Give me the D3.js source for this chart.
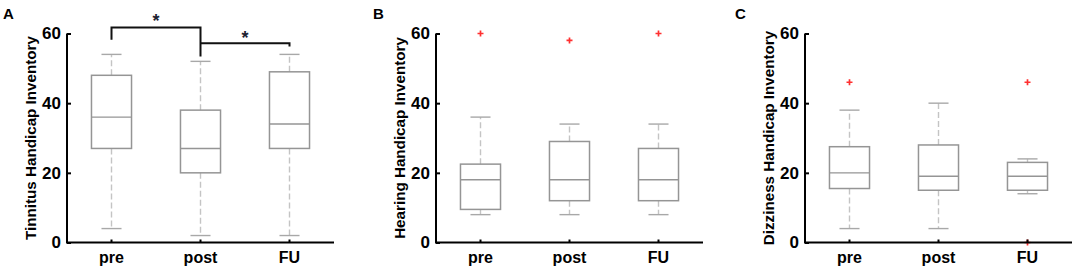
<!DOCTYPE html>
<html><head><meta charset="utf-8">
<script src="https://cdn.jsdelivr.net/npm/d3@7"></script>
<style>body{margin:0;background:#fff}svg{display:block}</style>
</head><body>
<svg id="c" width="1084" height="280"></svg>
<script>
const categories = ["pre","post","FU"];
const yTicks = [0,20,40,60];
const panelLetters = ["A","B","C"];
const yLabels = ["Tinnitus Handicap Inventory","Hearing Handicap Inventory","Dizziness Handicap Inventory"];
// [lowerWhisker, Q1, median, Q3, upperWhisker]
const tinnitusStats = [[4,27,36,48,54],[2,20,27,38,52],[2,27,34,49,54]];
const hearingStats  = [[8,9.5,18,22.5,36],[8,12,18,29,34],[8,12,18,27,34]];
const dizzinessStats= [[4,15.5,20,27.5,38],[4,15,19,28,40],[14,15,19,23,24]];
const tinnitusOutliers = [[],[],[]];
const hearingOutliers  = [[60],[58],[60]];
const dizzinessOutliers= [[46],[],[46,0]];
// significance brackets (panel A): pair, bar level, leg ends, star level
const sigPairs = [["pre","post"],["post","FU"]];
const sigLevels = [61.7,57.2];
const sigLegEnds = [[58.2,53.4],[57.2,56.3]];
const sigStarLevels = [64.1,59.3];

const panels = [
  {stats:tinnitusStats, out:tinnitusOutliers, left:67, letterX:3, sig:true},
  {stats:hearingStats, out:hearingOutliers, left:436, letterX:373, sig:false},
  {stats:dizzinessStats, out:dizzinessOutliers, left:805, letterX:735, sig:false}
];
const W = 267, plotTop = 33.5, plotBottom = 242.5;
const svg = d3.select("#c");
const font = "'Liberation Sans', Arial, sans-serif";

panels.forEach((p,i)=>{
  const g = svg.append("g").attr("transform",`translate(${p.left},0)`);
  const x = d3.scaleBand().domain(categories).range([0,W]).padding(0);
  const y = d3.scaleLinear().domain([0,60]).range([plotBottom,plotTop]);
  const bw = x.bandwidth()*0.45;
  const cap = bw/2;

  categories.forEach((c,j)=>{
    const s = p.stats[j];
    const cx = x(c)+x.bandwidth()/2;
    const bg = g.append("g");
    bg.append("line").attr("x1",cx).attr("x2",cx).attr("y1",y(s[3])).attr("y2",y(s[4]))
      .attr("stroke","#c4c4c4").attr("stroke-width",1.4).attr("stroke-dasharray","6,3");
    bg.append("line").attr("x1",cx).attr("x2",cx).attr("y1",y(s[1])).attr("y2",y(s[0]))
      .attr("stroke","#c4c4c4").attr("stroke-width",1.4).attr("stroke-dasharray","6,3");
    [s[0],s[4]].forEach(v=>{
      bg.append("line").attr("x1",cx-cap/2).attr("x2",cx+cap/2).attr("y1",y(v)).attr("y2",y(v))
        .attr("stroke","#a8a8a8").attr("stroke-width",1.4);
    });
    bg.append("rect").attr("x",cx-bw/2).attr("y",y(s[3])).attr("width",bw).attr("height",y(s[1])-y(s[3]))
      .attr("fill","none").attr("stroke","#959595").attr("stroke-width",1.5);
    bg.append("line").attr("x1",cx-bw/2).attr("x2",cx+bw/2).attr("y1",y(s[2])).attr("y2",y(s[2]))
      .attr("stroke","#959595").attr("stroke-width",1.4);
    p.out[j].forEach(v=>{
      bg.append("path").attr("d",`M${cx-3},${y(v)}h6M${cx},${y(v)-3}v6`)
        .attr("stroke","#ff3030").attr("stroke-width",1.7);
    });
  });

  const ya = g.append("g").call(d3.axisLeft(y).tickValues(yTicks).tickSize(-4).tickPadding(6));
  ya.select(".domain").attr("d",`M0,${plotTop}V${plotBottom}`).attr("stroke","#000").attr("stroke-width",2);
  ya.selectAll(".tick line").attr("stroke","#000").attr("stroke-width",2);
  ya.selectAll("text").attr("font-family",font).attr("font-weight","bold").attr("font-size",17).attr("fill","#000");

  const xa = g.append("g").attr("transform",`translate(0,${plotBottom})`)
    .call(d3.axisBottom(x).tickSize(-3).tickPadding(9));
  xa.select(".domain").attr("d",`M-1,0H${W}`).attr("stroke","#000").attr("stroke-width",2);
  xa.selectAll(".tick line").attr("stroke","#000").attr("stroke-width",2);
  xa.selectAll("text").attr("font-family",font).attr("font-weight","bold").attr("font-size",16).attr("fill","#000");

  g.append("text").attr("transform",`translate(${-37},${(plotTop+plotBottom)/2}) rotate(-90)`)
    .attr("text-anchor","middle").attr("dominant-baseline","central")
    .attr("font-family",font).attr("font-weight","bold").attr("font-size",15.2).attr("fill","#000")
    .text(yLabels[i]);

  svg.append("text").attr("x",p.letterX).attr("y",18.5)
    .attr("font-family",font).attr("font-weight","bold").attr("font-size",15).attr("fill","#000")
    .text(panelLetters[i]);

  if(p.sig){
    sigPairs.forEach((pair,k)=>{
      const x1 = x(pair[0])+x.bandwidth()/2, x2 = x(pair[1])+x.bandwidth()/2;
      const yl = y(sigLevels[k]);
      g.append("path").attr("d",`M${x1},${y(sigLegEnds[k][0])}V${yl}H${x2}V${y(sigLegEnds[k][1])}`)
        .attr("fill","none").attr("stroke","#111").attr("stroke-width",2);
      g.append("text").attr("x",(x1+x2)/2).attr("y",y(sigStarLevels[k])+8)
        .attr("text-anchor","middle").attr("font-family",font).attr("font-weight","bold")
        .attr("font-size",18).attr("fill","#1c2230").text("*");
    });
  }
});
</script>
</body></html>
